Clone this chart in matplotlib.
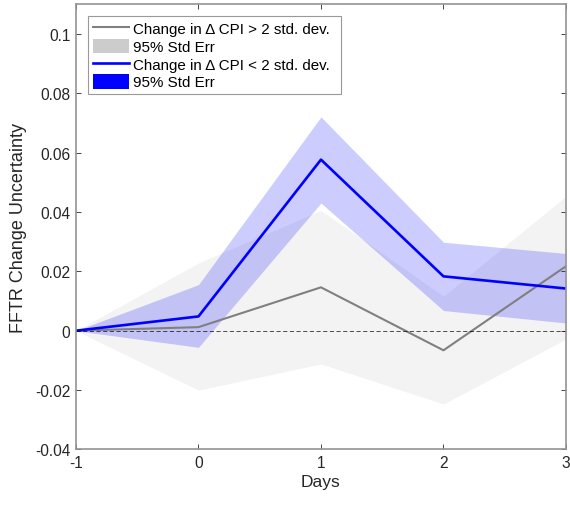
import matplotlib.pyplot as plt
from matplotlib.lines import Line2D
from matplotlib.patches import Patch

plt.rcParams["font.family"] = ["Liberation Sans", "DejaVu Sans"]

# event-window days
days = [-1, 0, 1, 2, 3]

# Change in delta CPI > 2 std. dev.
big_mean = [0.0, 0.0012, 0.0146, -0.0066, 0.0217]
big_upper = [0.0, 0.0228, 0.0405, 0.0116, 0.0453]
big_lower = [0.0, -0.0200, -0.0112, -0.0247, -0.0028]

# Change in delta CPI < 2 std. dev.
small_mean = [0.0, 0.0048, 0.0576, 0.0183, 0.0142]
small_upper = [0.0, 0.0155, 0.0720, 0.0298, 0.0260]
small_lower = [0.0, -0.0056, 0.0430, 0.0068, 0.0026]

dark = (0.15, 0.15, 0.15)

fig = plt.figure(figsize=(5.7, 5.06), dpi=100)
ax = fig.add_axes([0.1333, 0.1097, 0.8596, 0.8804])

ax.fill_between(days, big_lower, big_upper, color=(0.8, 0.8, 0.8), alpha=0.23, linewidth=0)
ax.plot(days, big_mean, color=(0.5, 0.5, 0.5), linewidth=1.5)
ax.fill_between(days, small_lower, small_upper, color=(0, 0, 1), alpha=0.2, linewidth=0)
ax.plot(days, small_mean, color=(0, 0, 1), linewidth=1.9)
ax.axhline(0, color="k", linestyle=(0, (5, 3)), linewidth=0.6, alpha=0.8)

ax.set_xlim(-1, 3)
ax.set_ylim(-0.04, 0.11)
ax.set_xticks([-1, 0, 1, 2, 3])
ax.set_xticklabels(["-1", "0", "1", "2", "3"])
ax.set_yticks([-0.04, -0.02, 0, 0.02, 0.04, 0.06, 0.08, 0.1])
ax.set_yticklabels(["-0.04", "-0.02", "0", "0.02", "0.04", "0.06", "0.08", "0.1"])

ax.tick_params(direction="in", length=3.5, width=0.6, colors=dark,
               labelsize=11.2, top=True, right=True, pad=4)
for s in ax.spines.values():
    s.set_color((0.58, 0.58, 0.58))
    s.set_linewidth(1.2)

ax.set_xlabel("Days", fontsize=12.5, color=dark, labelpad=3)
ax.set_ylabel("FFTR Change Uncertainty", fontsize=13, color=dark, labelpad=6)

handles = [
    Line2D([], [], color=(0.5, 0.5, 0.5), linewidth=1.5),
    Patch(facecolor=(0.8, 0.8, 0.8), edgecolor="none"),
    Line2D([], [], color=(0, 0, 1), linewidth=1.9),
    Patch(facecolor=(0, 0, 1), edgecolor="none"),
]
labels = [
    "Change in Δ CPI > 2 std. dev.",
    "95% Std Err",
    "Change in Δ CPI < 2 std. dev.",
    "95% Std Err",
]
# fixed-width box, entries left aligned
leg = ax.legend(handles, labels, loc="upper left", mode="expand",
                bbox_to_anchor=(0.0255, 0.5, 0.515, 0.472),
                fontsize=10.9, frameon=True, fancybox=False, borderaxespad=0,
                handlelength=2.4, handleheight=1.1, handletextpad=0.22,
                labelspacing=0.15, borderpad=0.3)
leg.get_frame().set_edgecolor((0.5, 0.5, 0.5))
leg.get_frame().set_linewidth(0.8)

plt.savefig("out.png", dpi=100)
